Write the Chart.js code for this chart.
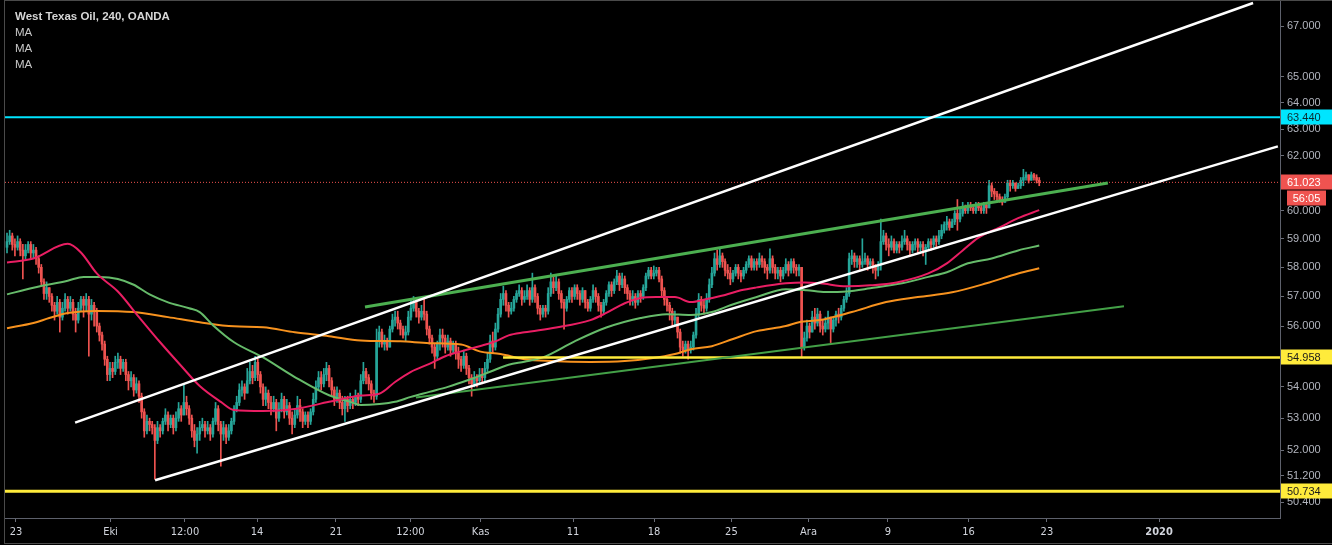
<!DOCTYPE html>
<html>
<head>
<meta charset="utf-8">
<script src="https://cdn.jsdelivr.net/npm/chart.js@4.4.1/dist/chart.umd.min.js"></script>
<style>
  html, body { margin: 0; padding: 0; background: #000; }
  canvas { display: block; }
</style>
</head>
<body>
<canvas id="oilChart" width="1332" height="545"></canvas>
<script>
// WTI 4h candles (open of each bar = previous close)
const firstOpen = 58.7;
const closes = [
  58.9,59.1,58.8,58.7,58.9,58.6,58.4,58.6,58.8,58.5,
  58.6,58.3,58.0,57.5,57.1,57.3,57.0,56.7,56.5,56.8,
  56.3,56.6,56.9,56.6,56.8,56.4,56.2,56.6,56.9,56.7,
  56.9,56.4,56.7,56.5,56.0,55.7,55.4,54.9,54.4,54.6,
  54.5,54.8,54.9,54.6,54.8,54.4,54.2,54.3,53.9,54.1,
  53.7,53.2,52.6,52.9,52.8,52.7,52.3,52.7,52.6,52.9,
  53.1,52.8,53.0,52.7,53.0,53.3,53.1,53.5,53.3,53.0,
  52.6,52.3,52.5,52.7,52.8,52.6,52.7,52.5,52.9,53.3,
  52.8,52.5,52.7,52.4,52.6,52.9,53.3,53.5,53.9,54.0,
  53.8,54.2,54.5,54.3,54.8,54.4,54.0,53.6,53.8,53.5,
  53.3,53.5,53.0,53.3,53.6,53.2,53.4,53.0,52.8,53.1,
  53.4,53.2,52.9,53.1,52.9,53.2,53.6,54.0,54.3,54.1,
  54.4,54.6,54.2,53.9,53.6,53.8,53.5,53.3,53.6,53.4,
  53.6,53.5,53.7,53.6,54.2,54.5,54.3,54.1,53.8,53.7,
  55.5,55.8,55.4,55.5,55.3,55.9,56.2,56.3,56.1,55.9,
  55.7,55.8,56.3,56.6,56.8,56.5,56.3,56.5,56.4,55.9,
  55.6,55.3,55.0,55.4,55.7,55.6,55.3,55.5,55.2,55.4,
  55.1,54.9,54.7,55.0,54.6,54.3,54.1,54.3,54.2,54.4,
  54.3,54.6,54.9,55.5,55.3,55.9,56.4,56.9,57.1,56.7,
  56.5,56.6,56.9,57.1,57.2,56.9,57.0,57.2,56.9,57.3,
  57.0,56.6,56.4,56.6,56.5,57.1,57.5,57.3,57.5,57.1,
  56.8,56.6,56.9,57.2,57.0,57.3,57.1,56.9,57.2,56.8,
  56.6,56.9,57.2,57.0,56.7,56.5,56.8,57.1,57.4,57.2,
  57.5,57.7,57.4,57.6,57.3,57.1,56.9,57.0,56.8,57.1,
  57.0,57.3,57.7,57.9,57.7,57.8,57.9,57.6,57.2,56.9,
  56.7,56.5,56.2,56.3,55.8,55.3,55.2,55.4,55.2,55.3,
  55.7,56.4,56.9,56.7,56.6,56.9,57.4,57.8,58.3,58.1,
  58.4,58.2,57.9,57.8,57.6,57.8,58.0,57.8,57.7,57.9,
  58.1,58.3,58.0,58.2,58.1,58.3,58.2,58.0,57.9,58.3,
  58.0,57.8,57.9,57.7,57.9,58.1,57.9,58.2,58.0,57.9,
  58.0,55.3,55.6,56.0,55.8,56.3,56.1,56.4,56.0,55.9,
  56.1,56.3,55.9,56.2,56.4,56.3,56.6,56.9,57.1,58.3,
  58.4,58.2,58.3,58.1,58.2,58.3,58.1,58.2,58.0,57.9,
  58.1,58.9,59.1,58.8,58.7,58.9,58.6,58.8,58.7,58.9,
  59.0,58.8,58.6,58.8,58.9,58.7,58.8,58.6,58.7,58.9,
  58.8,59.0,58.9,59.1,59.3,59.5,59.6,59.4,59.6,59.9,
  59.7,59.9,60.1,60.0,60.2,60.1,60.0,60.2,60.1,60.0,
  60.2,60.1,60.9,60.7,60.6,60.5,60.4,60.3,60.5,61.0,
  60.9,61.0,60.8,60.9,61.1,61.2,61.3,61.1,61.3,61.2,
  61.1,61.02
];
const highs = [
  59.2,59.3,59.2,59.0,59.1,59.0,58.8,58.8,58.9,58.9,
  58.8,58.7,58.4,58.1,57.6,57.5,57.2,57.1,56.8,57.0,
  56.9,56.8,57.1,57.0,57.0,56.9,56.6,56.8,57.0,57.0,
  57.1,57.0,56.9,56.8,56.6,56.1,55.8,55.5,55.0,54.8,
  54.8,55.0,55.1,55.0,54.9,54.9,54.5,54.5,54.4,54.3,
  54.2,53.8,53.3,53.1,53.0,52.9,52.8,52.9,52.8,53.0,
  53.3,53.2,53.1,53.1,53.2,53.5,53.4,54.1,53.7,53.4,
  53.1,52.8,52.7,52.9,53.0,52.9,52.9,52.8,53.0,53.5,
  53.4,52.9,52.9,52.8,52.8,53.0,53.4,53.7,54.1,54.2,
  54.1,54.6,54.8,54.7,55.0,54.9,54.5,54.1,54.0,53.9,
  53.7,53.7,53.6,53.5,53.8,53.7,53.6,53.5,53.2,53.3,
  53.7,53.6,53.3,53.2,53.2,53.3,53.8,54.2,54.5,54.5,
  54.6,54.8,54.7,54.3,54.0,54.0,53.9,53.7,53.7,53.7,
  53.8,53.7,53.9,53.8,54.4,54.8,54.6,54.4,54.2,53.9,
  55.9,56.0,55.9,55.7,55.6,56.0,56.4,56.5,56.5,56.2,
  56.0,56.0,56.5,56.9,57.0,56.9,56.6,56.7,56.9,56.5,
  56.0,55.7,55.4,55.5,55.9,55.9,55.7,55.7,55.6,55.5,
  55.5,55.3,55.0,55.2,55.1,54.7,54.4,54.5,54.4,54.6,
  54.6,54.8,55.1,55.7,55.8,56.1,56.6,57.1,57.35,57.2,
  56.8,56.8,57.0,57.2,57.4,57.3,57.2,57.4,57.3,57.8,
  57.4,57.1,56.7,56.7,56.7,57.3,57.8,57.7,57.7,57.6,
  57.2,56.9,57.0,57.3,57.3,57.4,57.4,57.2,57.3,57.2,
  56.9,57.0,57.4,57.3,57.1,56.8,56.9,57.2,57.5,57.5,
  57.6,57.9,57.8,57.8,57.7,57.4,57.2,57.2,57.1,57.2,
  57.2,57.4,57.8,58.0,58.0,58.05,58.0,58.0,57.7,57.3,
  57.0,56.8,56.6,56.5,56.3,55.9,55.5,55.5,55.5,55.5,
  55.8,56.6,57.1,57.0,56.9,57.1,57.6,58.0,58.5,58.6,
  58.65,58.5,58.3,58.1,58.0,57.9,58.1,58.1,57.9,58.0,
  58.2,58.4,58.4,58.3,58.3,58.5,58.4,58.3,58.1,58.65,
  58.4,58.1,58.0,58.0,58.0,58.3,58.2,58.3,58.3,58.1,
  58.1,58.0,55.8,56.2,56.1,56.5,56.6,56.6,56.5,56.2,
  56.3,56.5,56.3,56.3,56.5,56.6,56.7,57.0,57.3,58.5,
  58.6,58.5,58.4,58.4,59.0,58.5,58.4,58.3,58.3,58.1,
  58.2,59.7,59.3,59.2,59.0,59.1,59.0,58.9,58.9,59.1,
  59.3,59.1,58.9,58.9,59.0,59.0,58.9,58.9,58.8,59.0,
  59.0,59.1,59.1,59.3,59.5,59.6,59.8,59.7,59.7,60.0,
  60.4,60.1,60.3,60.2,60.3,60.3,60.2,60.3,60.3,60.2,
  60.3,60.3,61.1,61.0,60.8,60.7,60.6,60.5,60.6,61.1,
  61.1,61.1,61.0,61.0,61.2,61.5,61.4,61.3,61.4,61.35,
  61.3,61.2
];
const lows = [
  58.5,58.8,58.6,58.4,58.6,58.4,57.6,58.3,58.5,58.3,
  58.3,58.1,57.8,57.4,56.9,56.9,56.8,56.5,56.2,56.4,
  55.8,56.2,56.5,56.4,56.5,56.2,55.8,56.1,56.5,56.3,
  56.5,55.0,56.2,56.0,55.8,55.5,55.2,54.7,54.2,54.2,
  54.3,54.4,54.6,54.4,54.5,54.2,53.9,54.0,53.7,53.8,
  53.5,53.0,52.4,52.5,52.6,52.5,51.1,52.2,52.4,52.5,
  52.8,52.6,52.7,52.5,52.6,52.9,52.9,53.1,53.1,52.8,
  52.4,52.1,51.9,52.3,52.6,52.4,52.5,52.3,52.4,52.8,
  52.6,51.5,52.3,52.2,52.3,52.5,52.8,53.2,53.4,53.7,
  53.6,53.8,54.1,54.1,54.2,54.2,53.8,53.4,53.4,53.3,
  53.1,53.2,52.6,52.9,53.2,53.0,53.1,52.8,52.5,52.7,
  53.0,52.9,52.7,52.8,52.7,52.8,53.1,53.5,53.9,53.9,
  54.0,54.2,54.0,53.7,53.4,53.5,53.3,53.1,52.9,53.2,
  53.3,53.3,53.4,53.4,53.5,54.1,54.1,53.9,53.6,53.5,
  53.6,55.3,55.3,55.2,55.2,55.3,55.8,56.0,55.9,55.7,
  55.6,55.5,55.7,56.2,56.5,56.3,56.1,56.2,56.2,55.7,
  55.4,55.1,54.6,54.9,55.2,55.3,55.1,55.2,55.0,55.1,
  54.9,54.6,54.5,54.6,54.4,54.1,53.7,54.0,54.0,54.1,
  54.1,54.2,54.5,54.8,55.1,55.2,55.8,56.3,56.7,56.5,
  56.3,56.4,56.5,56.8,57.0,56.7,56.8,56.9,56.7,56.8,
  56.8,56.4,56.2,56.3,56.3,56.4,57.0,57.1,57.2,56.9,
  56.6,55.9,56.5,56.8,56.8,56.9,56.9,56.7,56.8,56.6,
  56.5,56.5,56.8,56.8,56.5,56.3,56.4,56.7,57.0,57.0,
  57.1,57.4,57.2,57.3,57.1,56.9,56.7,56.7,56.6,56.7,
  56.8,56.9,57.2,57.6,57.6,57.6,57.7,57.5,57.0,56.7,
  56.5,56.2,56.0,56.0,55.6,55.1,55.0,55.1,54.9,55.1,
  55.2,55.6,56.3,56.5,56.4,56.5,56.8,57.3,57.7,57.9,
  58.0,58.0,57.7,57.6,57.4,57.5,57.7,57.6,57.5,57.6,
  57.8,58.0,57.9,57.9,57.9,58.0,58.0,57.8,57.6,57.8,
  57.8,57.6,57.6,57.5,57.6,57.8,57.7,57.8,57.8,57.7,
  57.7,54.95,55.2,55.5,55.6,55.8,55.9,56.0,55.8,55.7,
  55.8,55.9,55.45,55.8,56.0,56.1,56.2,56.5,56.8,57.0,
  58.1,58.0,58.0,57.9,58.0,58.1,57.9,58.0,57.8,57.6,
  57.7,57.9,58.8,58.6,58.4,58.6,58.5,58.5,58.5,58.6,
  58.8,58.6,58.4,58.5,58.6,58.5,58.5,58.4,58.1,58.6,
  58.6,58.7,58.7,58.8,59.0,59.2,59.3,59.3,59.4,59.5,
  59.3,59.6,59.8,59.9,59.9,60.0,59.9,59.9,60.0,59.9,
  59.9,59.9,60.1,60.5,60.4,60.3,60.3,60.2,60.3,60.4,
  60.7,60.8,60.7,60.8,60.8,60.9,61.1,61.0,61.1,61.1,
  61.0,60.9
];

// moving averages, read at bar indices
const maFastIdx = [0,10,23,28,34,42,50,58,66,73,81,86,97,109,122,134,141,147,153,160,166,172,179,185,190,196,208,221,227,234,240,246,253,259,265,272,278,284,295,302,308,318,327,337,349,356,362,368,376,383,391];
const maFastVal = [58.17,58.31,58.82,58.52,57.79,57.17,56.30,55.46,54.68,54.03,53.52,53.26,53.23,53.29,53.52,53.72,53.78,54.16,54.49,54.75,55.0,55.16,55.33,55.49,55.69,55.79,55.95,56.2,56.44,56.77,56.95,56.98,56.98,56.81,56.91,57.05,57.21,57.31,57.45,57.48,57.45,57.35,57.38,57.48,57.79,58.14,58.59,59.04,59.40,59.73,60.02];
const maMidIdx = [0,10,23,29,35,42,48,54,61,69,73,78,86,97,109,122,130,134,141,147,153,160,167,175,183,190,196,203,215,227,240,250,259,267,274,284,295,303,310,318,327,339,349,356,364,373,383,391];
const maMidVal = [57.07,57.30,57.54,57.67,57.67,57.60,57.40,57.07,56.80,56.60,56.47,56.03,55.46,54.96,54.32,53.73,53.52,53.42,53.45,53.52,53.68,53.84,54.0,54.23,54.49,54.72,54.82,54.96,55.49,55.95,56.27,56.40,56.37,56.47,56.70,56.98,57.25,57.21,57.15,57.17,57.28,57.45,57.67,57.83,58.14,58.31,58.59,58.76];
const maSlowIdx = [0,10,16,23,34,48,61,73,86,97,109,122,134,149,160,172,179,187,196,206,221,234,244,253,259,267,275,284,295,300,308,320,333,345,358,371,383,391];
const maSlowVal = [55.93,56.10,56.27,56.44,56.51,56.47,56.30,56.13,55.99,55.96,55.79,55.66,55.52,55.49,55.43,55.39,55.16,55.07,54.90,54.84,54.81,54.84,54.93,55.07,55.23,55.33,55.57,55.83,56.0,56.13,56.20,56.47,56.81,56.98,57.14,57.45,57.79,57.97];

// drawn trend lines: [startIdx, startPrice, endIdx, endPrice]
const channelTop = [25.8, 52.86, 472.0, 67.93];
const channelBottom = [56.1, 51.07, 481.4, 62.35];
const greenUpper = [135.6, 56.64, 417.0, 61.0];
const greenLower = [154.9, 53.66, 423.1, 56.67];

// horizontal levels
const cyanLevel = 63.44;
const yellowHigh = 54.958;
const yellowHighStart = 187.9;
const yellowLow = 50.734;
const lastPrice = 61.023;
const countdown = '56:05';

// axes
const yTicks = [50.4, 51.2, 52, 53, 54, 55, 56, 57, 58, 59, 60, 61, 62, 63, 64, 65, 67];
const xTickIdx = [3.4, 39.2, 67.4, 94.7, 124.6, 152.8, 179.4, 214.4, 245.1, 274.4, 303.6, 333.7, 364.2, 393.9, 436.4];
const xTickText = ['23', 'Eki', '12:00', '14', '21', '12:00', 'Kas', '11', '18', '25', 'Ara', '9', '16', '23', '2020'];
const X_MIN = -0.76, X_MAX = 482.2;
const Y_MIN = 49.93, Y_MAX = 68.01;

const UP = '#26a69a', DOWN = '#ef5350';

const opens = closes.map((c, i) => i === 0 ? firstOpen : closes[i - 1]);
const candleColors = closes.map((c, i) => c >= opens[i] ? UP : DOWN);
const bodyData = closes.map((c, i) => ({ x: i, y: [opens[i], c] }));
const wickData = closes.map((c, i) => ({
    x: i,
    y: [Math.min(lows[i], opens[i], c), Math.max(highs[i], opens[i], c)]
}));

const pts = (idx, vals) => idx.map((x, k) => ({ x, y: vals[k] }));
const seg = s => [{ x: s[0], y: s[1] }, { x: s[2], y: s[3] }];
const hline = (v, from) => [{ x: from === undefined ? X_MIN : from, y: v }, { x: X_MAX, y: v }];

function lineSet(data, color, width, order, extra) {
    return Object.assign({
        type: 'line', data, borderColor: color, borderWidth: width,
        pointRadius: 0, fill: false, order, tension: 0
    }, extra || {});
}

// badges, title and frame
const overlayPlugin = {
    id: 'overlay',
    beforeDraw(chart) {
        const ctx = chart.ctx;
        ctx.save();
        ctx.fillStyle = '#000';
        ctx.fillRect(0, 0, chart.width, chart.height);
        ctx.restore();
    },
    afterDraw(chart) {
        const ctx = chart.ctx;
        const ys = chart.scales.y;
        const area = chart.chartArea;
        ctx.save();

        const badge = (v, bg, fg, text) => {
            const y = Math.round(ys.getPixelForValue(v));
            ctx.fillStyle = bg;
            ctx.fillRect(area.right + 1, y - 7.5, 52, 15);
            ctx.fillStyle = fg;
            ctx.font = '11px "Liberation Sans", Arial, sans-serif';
            ctx.textAlign = 'left';
            ctx.textBaseline = 'middle';
            ctx.fillText(text, area.right + 7, y + 0.5);
            return y;
        };
        badge(cyanLevel, '#00e5ff', '#0b2a30', cyanLevel.toFixed(3));
        badge(yellowHigh, '#ffeb3b', '#1a1a1a', yellowHigh.toFixed(3));
        badge(yellowLow, '#ffeb3b', '#1a1a1a', yellowLow.toFixed(3));
        const py = badge(lastPrice, DOWN, '#ffffff', lastPrice.toFixed(3));
        ctx.fillStyle = DOWN;
        ctx.fillRect(area.right + 7, py + 8.5, 39, 15);
        ctx.fillStyle = '#ffffff';
        ctx.textAlign = 'center';
        ctx.fillText(countdown, area.right + 26.5, py + 16.5);

        // legend text
        ctx.textAlign = 'left';
        ctx.textBaseline = 'middle';
        ctx.fillStyle = '#d6d6d6';
        ctx.font = 'bold 11.5px "Liberation Sans", Arial, sans-serif';
        ctx.fillText('West Texas Oil, 240, OANDA', 15, 17);
        ctx.fillStyle = '#c8c8c8';
        ctx.font = '11.5px "Liberation Sans", Arial, sans-serif';
        ['MA', 'MA', 'MA'].forEach((t, k) => ctx.fillText(t, 15, 33 + k * 16));

        // outer frame
        ctx.strokeStyle = '#4a4a4a';
        ctx.lineWidth = 1;
        ctx.strokeRect(4.5, 0.5, chart.width - 4, chart.height - 2);
        ctx.restore();
    }
};

const chart = new Chart(document.getElementById('oilChart'), {
    type: 'bar',
    data: {
        datasets: [
            lineSet(seg(channelTop), '#ffffff', 2.5, 1),
            lineSet(seg(channelBottom), '#ffffff', 2.5, 1),
            lineSet(seg(greenUpper), '#4caf50', 3, 1),
            lineSet(seg(greenLower), '#43a047', 2, 1),
            lineSet(hline(cyanLevel), '#00e5ff', 2, 2),
            lineSet(hline(yellowHigh, yellowHighStart), '#ffeb3b', 2.5, 2),
            lineSet(hline(yellowLow), '#ffeb3b', 3, 2),
            lineSet(hline(lastPrice), DOWN, 1, 2, { borderDash: [1, 2] }),
            lineSet(pts(maFastIdx, maFastVal), '#e91e63', 2, 5, { cubicInterpolationMode: 'monotone' }),
            lineSet(pts(maMidIdx, maMidVal), '#66bb6a', 2, 5, { cubicInterpolationMode: 'monotone' }),
            lineSet(pts(maSlowIdx, maSlowVal), '#f7921e', 2, 5, { cubicInterpolationMode: 'monotone' }),
            {
                type: 'bar', data: bodyData, backgroundColor: candleColors,
                barThickness: 2, minBarLength: 1, grouped: false, borderWidth: 0, order: 10
            },
            {
                type: 'bar', data: wickData, backgroundColor: candleColors,
                barThickness: 1, grouped: false, borderWidth: 0, order: 11
            }
        ]
    },
    options: {
        responsive: false,
        devicePixelRatio: 1,
        animation: false,
        events: [],
        layout: { padding: { left: 5, top: 1, right: 0, bottom: 0 } },
        plugins: { legend: { display: false }, tooltip: { enabled: false } },
        scales: {
            x: {
                type: 'linear', min: X_MIN, max: X_MAX, offset: false,
                afterBuildTicks: ax => { ax.ticks = xTickIdx.map(v => ({ value: v })); },
                afterFit: ax => { ax.height = 27; ax.paddingLeft = 0; ax.paddingRight = 0; },
                grid: { offset: false, drawOnChartArea: false, drawTicks: true, tickLength: 4, color: '#6a6d78' },
                border: { display: true, color: '#5d606b' },
                ticks: {
                    autoSkip: false, maxRotation: 0, padding: 4, color: '#d1d4dc',
                    font: c => ({
                        family: '"Liberation Sans Narrow", "DejaVu Sans Condensed", sans-serif',
                        size: 11,
                        weight: xTickText[c.index] === '2020' ? 'bold' : 'normal'
                    }),
                    callback: (v, k) => xTickText[k]
                }
            },
            y: {
                type: 'logarithmic', position: 'right', min: Y_MIN, max: Y_MAX,
                afterBuildTicks: ax => { ax.ticks = yTicks.map(v => ({ value: v })); },
                afterFit: ax => { ax.width = 52; ax.paddingTop = 0; ax.paddingBottom = 0; },
                grid: { drawOnChartArea: false, drawTicks: true, tickLength: 4, color: '#6a6d78' },
                border: { display: true, color: '#5d606b' },
                ticks: {
                    autoSkip: false, padding: 3, color: '#b2b5be',
                    font: { family: '"Liberation Sans", Arial, sans-serif', size: 11 },
                    callback: v => Number(v).toFixed(3)
                }
            }
        }
    },
    plugins: [overlayPlugin]
});
</script>
</body>
</html>
